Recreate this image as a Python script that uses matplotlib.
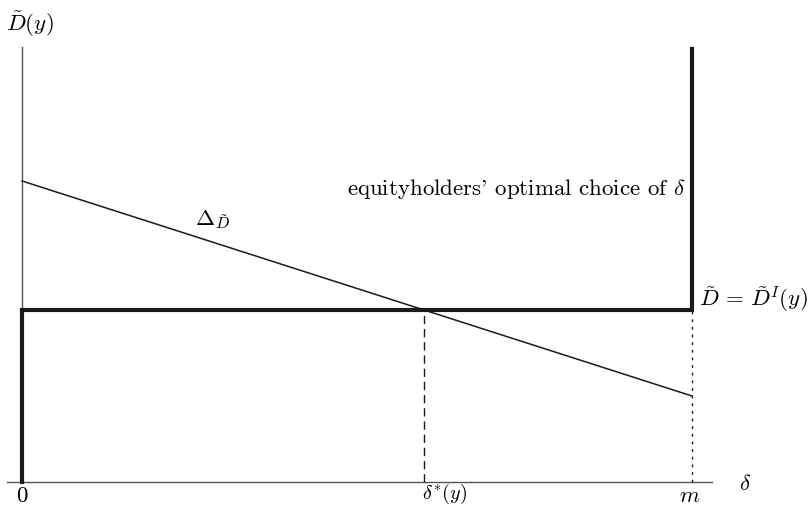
import matplotlib
matplotlib.use("Agg")
import matplotlib.pyplot as plt

plt.rcParams['mathtext.fontset'] = 'cm'
plt.rcParams['font.family'] = 'cmr10'
plt.rcParams['axes.unicode_minus'] = False

# model values (arbitrary units, m normalised to 1)
m = 1.0
D_I = 1.0
delta_at_0 = 1.75
delta_at_m = 0.50
top = 2.52
axis_top = 2.53

# Delta_D line crosses D_I at delta*
delta_star = (delta_at_0 - D_I) / (delta_at_0 - delta_at_m) * m

xs_choice = [0, 0, m, m]
ys_choice = [0, D_I, D_I, top]

fig = plt.figure(figsize=(8.09, 5.07), dpi=100)
ax = fig.add_axes([0, 0, 1, 1])
ax.set_xlim(-0.0328, 1.1746)
ax.set_ylim(-0.1453, 2.802)
ax.axis('off')

axcol = '#555555'
ax.plot([-0.022, 1.03], [0, 0], color=axcol, lw=1.0)
ax.plot([0, 0], [0, axis_top], color=axcol, lw=1.0)

ax.plot([0, m], [delta_at_0, delta_at_m], color='#1a1a1a', lw=1.1)
ax.plot(xs_choice, ys_choice, color='#1a1a1a', lw=3.0, solid_joinstyle='miter')
ax.plot([delta_star, delta_star], [0, D_I], color='#1a1a1a', lw=1.0, dashes=[6, 3.5])
ax.plot([m, m], [0, D_I], color='#1a1a1a', lw=1.0, dashes=[2, 3.5])

fs = 16.5
bottom = -0.138
ax.text(0.012, 2.66, r'$\tilde{D}(y)$', fontsize=fs, ha='center', va='center')
ax.text(1.079, -0.012, r'$\delta$', fontsize=fs, ha='center', va='center')
ax.text(0, bottom, '0', fontsize=fs, ha='center', va='bottom')
ax.text(delta_star + 0.03, bottom, r'$\delta^{*}(y)$', fontsize=14.5, ha='center', va='bottom')
ax.text(m - 0.003, bottom, r'$m$', fontsize=fs, ha='center', va='bottom')
ax.text(0.258, 1.523, r'$\Delta_{\tilde{D}}$', fontsize=fs, ha='left', va='center')
ax.text(0.485, 1.703, r"equityholders' optimal choice of $\delta$", fontsize=fs,
        ha='left', va='center')
ax.text(1.01, 1.065, r'$\tilde{D}\,=\,\tilde{D}^{I}(y)$', fontsize=fs, ha='left', va='center')

plt.savefig('out.png', dpi=100)
